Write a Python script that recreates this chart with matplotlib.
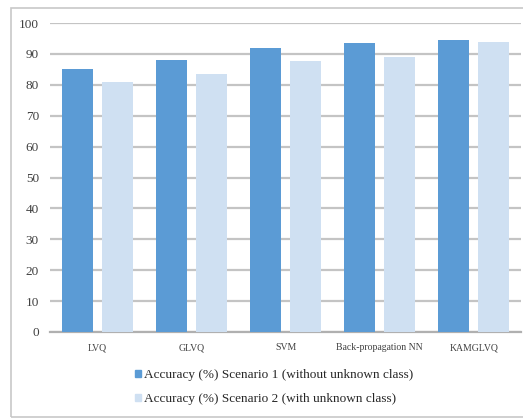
import matplotlib.pyplot as plt
import numpy as np
from matplotlib.patches import Patch, Rectangle

methods = ['LVQ', 'GLVQ', 'SVM', 'Back-propagation NN', 'KAMGLVQ']
scenario1 = [85, 88, 92, 93.5, 94.5]
scenario2 = [81, 83.5, 87.7, 89, 94]
labels = ['Accuracy (%) Scenario 1 (without unknown class)',
          'Accuracy (%) Scenario 2 (with unknown class)']

dark_blue = '#5b9bd5'
light_blue = '#cfe0f2'

plt.rcParams['font.family'] = ['Liberation Serif', 'DejaVu Serif']

fig = plt.figure(figsize=(5.23, 4.18), dpi=100)
# outer chart border
fig.patches.append(Rectangle((11 / 523, 1 / 418), 1.2, 409 / 418, transform=fig.transFigure,
                             fill=False, edgecolor='#c8c8c8', linewidth=1.2))

ax = fig.add_axes([50 / 523, 1 - 332 / 418, 471 / 523, 309 / 418])
index = np.arange(len(methods))
bar_width = 0.33
gap = 0.095
ax.bar(index - (bar_width + gap) / 2, scenario1, bar_width, color=dark_blue, zorder=3)
ax.bar(index + (bar_width + gap) / 2, scenario2, bar_width, color=light_blue, zorder=3)

ax.set_xlim(-0.5, len(methods) - 0.5)
ax.set_ylim(0, 100)
ax.set_yticks(np.arange(0, 101, 10))
ax.set_xticks(index)
ax.set_xticklabels(methods, fontsize=7, color='#404040')
ax.tick_params(axis='y', length=0, pad=8, labelsize=9.5, labelcolor='#404040')
ax.tick_params(axis='x', length=0, pad=8)
ax.yaxis.grid(True, color='#c4c4c4', linewidth=1.6, zorder=0)
for side in ['top', 'right', 'left']:
    ax.spines[side].set_visible(False)
ax.spines['bottom'].set_color('#b0b0b0')
ax.spines['bottom'].set_linewidth(1.6)

handles = [Patch(color=dark_blue), Patch(color=light_blue)]
fig.legend(handles, labels, loc='upper left', bbox_to_anchor=(123 / 523, 1 - 357 / 418),
           frameon=False, fontsize=9.5, handlelength=0.45, handleheight=0.45,
           handletextpad=0.25, labelspacing=0.95, labelcolor='#262626')

fig.savefig('out.png', dpi=100)
